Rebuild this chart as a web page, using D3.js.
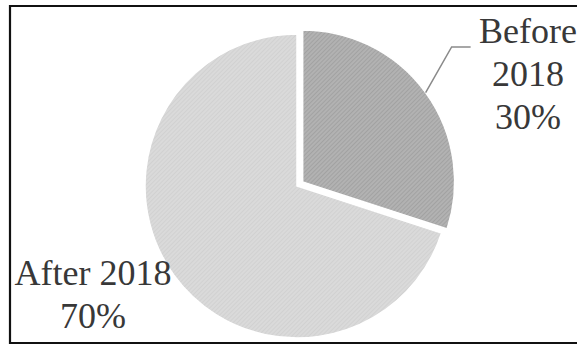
<!DOCTYPE html>
<html>
<head>
<meta charset="utf-8">
<script src="https://cdn.jsdelivr.net/npm/d3@7"></script>
<style>
  html, body { margin: 0; padding: 0; background: #fff; }
  svg { display: block; }
</style>
</head>
<body>
<div id="chart"></div>
<script>
const categories = ['Before 2018', 'After 2018'];
const shares = [30, 70];
const labelLines = [['Before', '2018', '30%'], ['After 2018', '70%']];

const width = 577, height = 345;
const cx = 297, cy = 186, radius = 152;
const explode = 7;

const svg = d3.select('#chart')
  .append('svg')
  .attr('width', width)
  .attr('height', height);

// hatch fills
const defs = svg.append('defs');
const hatch = (id, base, line) => {
  const p = defs.append('pattern')
    .attr('id', id)
    .attr('patternUnits', 'userSpaceOnUse')
    .attr('width', 3)
    .attr('height', 3)
    .attr('patternTransform', 'rotate(45)');
  p.append('rect').attr('width', 3).attr('height', 3).attr('fill', base);
  p.append('line').attr('x1', 0).attr('y1', 0).attr('x2', 0).attr('y2', 3)
    .attr('stroke', line).attr('stroke-width', 1.2);
};
hatch('hatch-before', '#b2b2b2', '#979797');
hatch('hatch-after', '#dadada', '#cbcbcb');

// frame (right side is cut off in the source)
svg.append('path')
  .attr('d', `M${width},6 H10 V343 H${width}`)
  .attr('fill', 'none')
  .attr('stroke', '#111')
  .attr('stroke-width', 2.2);

const pie = d3.pie().sort(null).value(d => d.value);
const arcs = pie(categories.map((c, i) => ({ name: c, value: shares[i] })));
const arc = d3.arc().innerRadius(0).outerRadius(radius);

// only the small slice is pulled out
const offset = d => {
  if (d.index !== 0) return [0, 0];
  const a = (d.startAngle + d.endAngle) / 2;
  return [Math.sin(a) * explode, -Math.cos(a) * explode];
};

const g = svg.append('g').attr('transform', `translate(${cx},${cy})`);

g.selectAll('path.slice')
  .data(arcs)
  .join('path')
  .attr('class', 'slice')
  .attr('transform', d => `translate(${offset(d)})`)
  .attr('d', arc)
  .attr('fill', (d, i) => i === 0 ? 'url(#hatch-before)' : 'url(#hatch-after)')
  .attr('stroke', '#fff')
  .attr('stroke-width', 1.5);

// leader line for the small slice
const b = arcs[0];
const mid = (b.startAngle + b.endAngle) / 2;
const [ox, oy] = offset(b);
const p0 = [ox + Math.sin(mid) * radius, oy - Math.cos(mid) * radius];
const elbowY = -radius * 0.915;
g.append('polyline')
  .attr('points', [p0, [p0[0] + 26, elbowY], [p0[0] + 45, elbowY]].map(p => p.join(',')).join(' '))
  .attr('fill', 'none')
  .attr('stroke', '#8a8a8a')
  .attr('stroke-width', 1.5);

// labels
const font = '"Liberation Serif", "Times New Roman", serif';
const labelPos = [
  { x: 528, y: 43 },
  { x: 93, y: 285 }
];
labelLines.forEach((lines, i) => {
  const t = svg.append('text')
    .attr('x', labelPos[i].x)
    .attr('y', labelPos[i].y)
    .attr('text-anchor', 'middle')
    .attr('font-family', font)
    .attr('font-size', 36)
    .attr('fill', '#383838');
  lines.forEach((line, j) => {
    t.append('tspan')
      .attr('x', labelPos[i].x)
      .attr('dy', j === 0 ? 0 : 43)
      .text(line);
  });
});
</script>
</body>
</html>
